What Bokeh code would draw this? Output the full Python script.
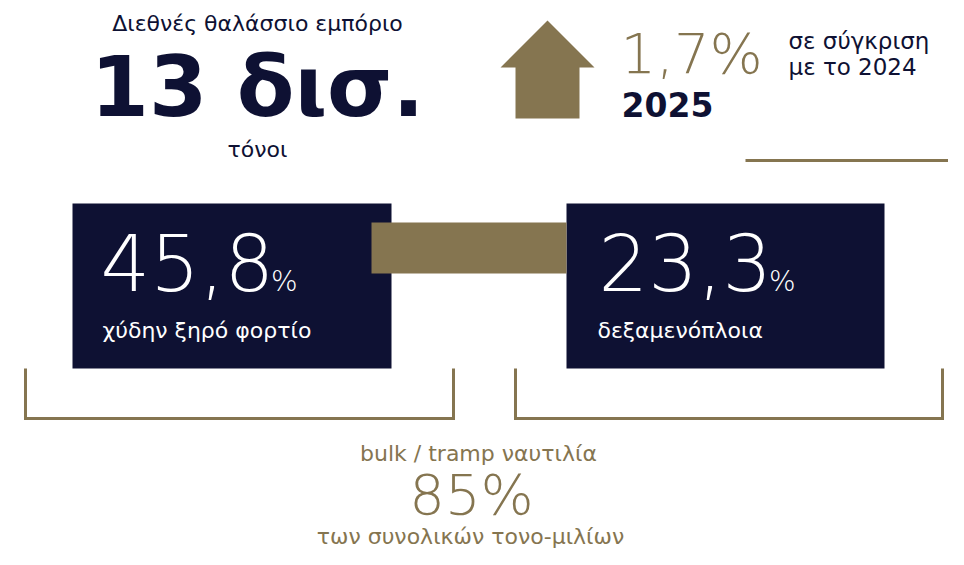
from bokeh.plotting import figure
from bokeh.models import Label, Range1d
from bokeh.embed import file_html
from bokeh.resources import INLINE

# ---------------- data ----------------
trade_volume_bn_tonnes = 13
growth_pct = 1.7
year = 2025
compare_year = 2024
segment_labels = ["χύδην ξηρό φορτίο", "δεξαμενόπλοια"]
segment_shares = [45.8, 23.3]
bulk_tramp_share = 85

# ---------------- style ----------------
NAVY = "#0e1133"
GOLD = "#857550"
WHITE = "#ffffff"
REG = "DejaVu Sans"
LIGHT = "DejaVu Sans Light, DejaVu Sans"
K = 0.385  # baseline correction factor (fraction of font size)


def gr(v):
    return f"{v:.1f}".replace(".", ",")


p = figure(width=948, height=549, output_backend="svg", toolbar_location=None,
           x_range=Range1d(0, 948), y_range=Range1d(549, 0), min_border=0)
p.axis.visible = False
p.grid.visible = False
p.outline_line_color = None
p.background_fill_color = WHITE
p.border_fill_color = WHITE


def lab(x, base, text, size, color=NAVY, align="left", font=REG, style="normal"):
    p.add_layout(Label(x=x, y=base - K * size, text=text, text_font_size=f"{size}px",
                       text_color=color, text_align=align, text_baseline="alphabetic",
                       text_font=font, text_font_style=style))


# ---------------- top-left block ----------------
lab(257, 31, "Διεθνές θαλάσσιο εμπόριο", 22, align="center")
lab(257, 119, f"{trade_volume_bn_tonnes} δισ.", 84, align="center", style="bold")
lab(257, 157, "τόνοι", 22, align="center")

# ---------------- growth block ----------------
arrow_x = [547, 594, 579, 579, 515, 515, 500]
arrow_y = [20, 67, 67, 118, 118, 67, 67]
p.patch(arrow_x, arrow_y, fill_color=GOLD, line_color=None)
lab(620, 75, f"{gr(growth_pct)}%", 56, color=GOLD, font=LIGHT)
lab(788, 49, "σε σύγκριση", 23)
lab(788, 75, f"με το {compare_year}", 23)
lab(621, 117, f"{year}", 33, style="bold")
p.segment(x0=[745], y0=[160], x1=[964], y1=[160], line_color=GOLD, line_width=3)

# ---------------- segment boxes ----------------
box_left = [72, 566]
box_right = [391, 884]
p.quad(left=box_left, right=box_right, top=[203, 203], bottom=[368, 368],
       fill_color=NAVY, line_color=None)
p.quad(left=[371], right=[566], top=[222], bottom=[273], fill_color=GOLD, line_color=None)

num_size = 78
num_left = [100, 598]
cap_left = [102, 597]
for i, (share, label) in enumerate(zip(segment_shares, segment_labels)):
    txt = gr(share)
    lab(num_left[i], 292, txt, num_size, color=WHITE, font=LIGHT)
    w = num_size * (0.62 * sum(c.isdigit() for c in txt) + 0.30 * txt.count(","))
    lab(num_left[i] + w + 2, 292, "%", 28, color=WHITE, font=LIGHT)
    lab(cap_left[i], 338, label, 22, color=WHITE)

# brackets
p.multi_line(xs=[[25, 25, 453, 453], [515, 515, 942, 942]],
             ys=[[368, 418, 418, 368], [368, 418, 418, 368]],
             line_color=GOLD, line_width=3, line_join="miter")

# ---------------- bottom block ----------------
lab(478, 461, "bulk / tramp ναυτιλία", 22, color=GOLD, align="center")
lab(471, 516, f"{bulk_tramp_share}%", 56, color=GOLD, align="center", font=LIGHT)
lab(470, 544, "των συνολικών τονο-μιλίων", 22, color=GOLD, align="center")

open("out.html", "w").write(file_html(p, INLINE))
